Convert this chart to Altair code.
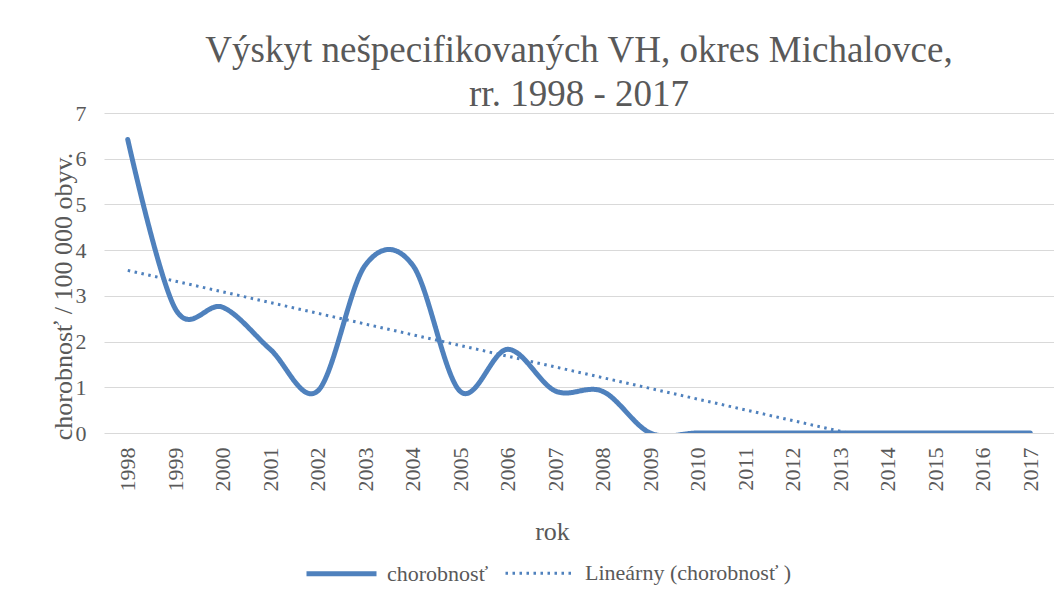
import altair as alt
import pandas as pd

years = list(range(1998, 2018))
values = [6.42, 2.72, 2.75, 1.83, 0.92, 3.67, 3.67, 0.91, 1.83, 0.92, 0.91,
          0, 0, 0, 0, 0, 0, 0, 0, 0]
series_names = ["chorobnosť", "Lineárny (chorobnosť )"]

df = pd.DataFrame({"rok": years, "v": values, "series": series_names[0]})

BLUE = "#4F81BD"
GRAY = "#595959"
FONT = "Times New Roman, Liberation Serif, DejaVu Serif, Noto Serif, serif"

x_enc = alt.X("rok:O", title="rok",
              scale=alt.Scale(type="point", padding=0.5),
              axis=alt.Axis(labelAngle=270, labelPadding=14, ticks=False,
                            domain=False, grid=False, labelFont=FONT,
                            labelFontSize=22, labelColor=GRAY,
                            titleFont=FONT, titleFontSize=26, titleColor=GRAY,
                            titleFontWeight="normal", titleBaseline="alphabetic",
                            titleX=448, titleY=106))
y_enc = alt.Y("v:Q", title="chorobnosť / 100 000 obyv.",
              scale=alt.Scale(domain=[0, 7], nice=False),
              axis=alt.Axis(values=[0, 1, 2, 3, 4, 5, 6, 7], ticks=False,
                            domain=False, grid=True, gridColor="#D9D9D9",
                            gridWidth=1.2, labelFont=FONT, labelFontSize=22,
                            labelColor=GRAY, labelPadding=18,
                            titleFont=FONT, titleFontSize=26, titleColor=GRAY,
                            titleFontWeight="normal", titleBaseline="alphabetic",
                            titleAngle=270, titleX=-33, titleY=183))

color_enc = alt.Color("series:N", scale=alt.Scale(domain=series_names, range=[BLUE, BLUE]),
                      legend=alt.Legend(title=None, orient="none", legendX=200, legendY=423,
                                        direction="horizontal", symbolType="stroke",
                                        symbolSize=4900, labelFont=FONT, labelFontSize=22,
                                        labelColor=GRAY, labelLimit=400, labelOffset=8,
                                        columnPadding=10))
dash_enc = alt.StrokeDash("series:N", scale=alt.Scale(domain=series_names, range=[[1, 0], [2.5, 4.5]]))
width_enc = alt.StrokeWidth("series:N", scale=alt.Scale(domain=series_names, range=[5, 3]))

line = alt.Chart(df).mark_line(interpolate="cardinal", tension=0, strokeCap="round",
                               strokeJoin="round", clip=True).encode(
    x=x_enc, y=y_enc, color=color_enc, strokeDash=dash_enc, strokeWidth=width_enc)

trend = alt.Chart(df).transform_regression("rok", "v", method="linear").transform_calculate(
    series='"Lineárny (chorobnosť )"').mark_line(clip=True).encode(
    x=x_enc, y=y_enc, color=color_enc, strokeDash=dash_enc, strokeWidth=width_enc)

chart = alt.layer(line, trend).properties(
    width=950, height=320,
    title=alt.TitleParams(["Výskyt nešpecifikovaných VH, okres Michalovce,", "rr. 1998 - 2017"],
                          font=FONT, fontSize=37, lineHeight=44, color=GRAY,
                          fontWeight="normal", anchor="middle", offset=-12),
    autosize=alt.AutoSizeParams(type="none"),
    padding={"left": 96, "top": 105, "right": 0, "bottom": 155},
).configure_view(stroke=None)

chart.save("out.html", embed_options={"renderer": "svg", "actions": False})
